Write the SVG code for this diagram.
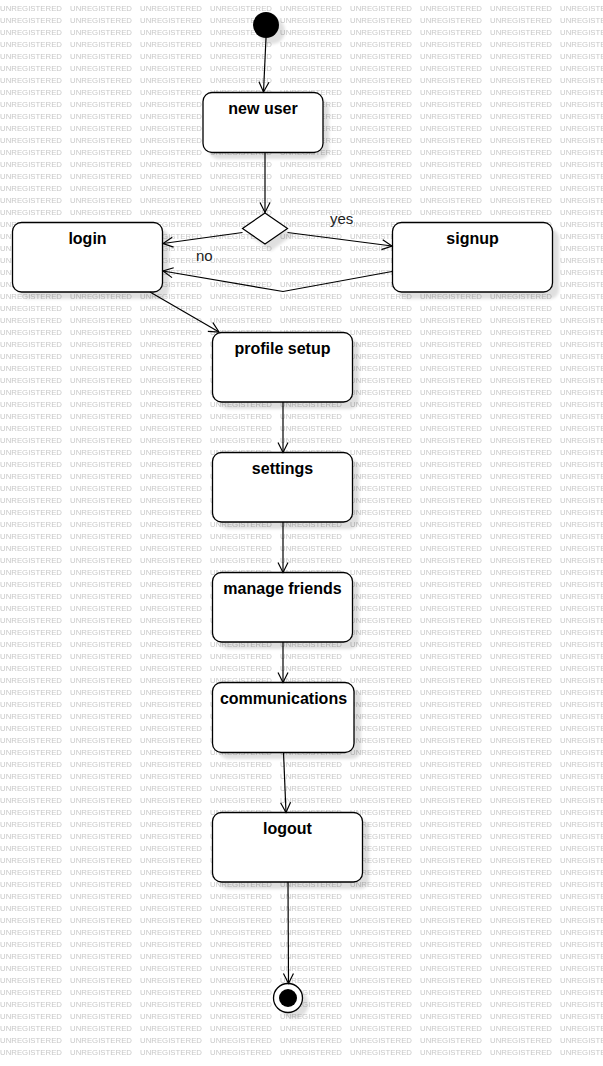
<svg xmlns="http://www.w3.org/2000/svg" width="603" height="1066" viewBox="0 0 603 1066">
<style>
.wm{font-family:"Liberation Sans",Arial,sans-serif;font-size:7.7px;fill:#c8c8c8}
.box{fill:#fff;stroke:#000;stroke-width:1.3}
.sh{fill:#000;opacity:0.12}
.lbl{font-family:"Liberation Sans",Arial,sans-serif;font-size:16px;font-weight:bold;fill:#000;text-anchor:middle}
.el{font-family:"Liberation Sans",Arial,sans-serif;font-size:15px;fill:#222}
.ln{fill:none;stroke:#000;stroke-width:1.2}
</style>
<defs>
<pattern id="wmp" x="0" y="0" width="70" height="12" patternUnits="userSpaceOnUse">
<text class="wm" x="0" y="10.5" textLength="62" lengthAdjust="spacingAndGlyphs">UNREGISTERED</text>
</pattern>
<filter id="blur" x="-20%" y="-20%" width="140%" height="140%"><feGaussianBlur stdDeviation="1.5"/></filter>
<marker id="arr" markerUnits="userSpaceOnUse" markerWidth="14" markerHeight="14" refX="11" refY="6" orient="auto">
<path d="M1,1 L11,6 L1,11" fill="none" stroke="#000" stroke-width="1.2"/>
</marker>
</defs>
<rect width="603" height="1066" fill="#fff"/>
<rect width="603" height="1059" fill="url(#wmp)"/>

<g id="start">
<circle class="sh" cx="272" cy="31" r="13" filter="url(#blur)"/>
<circle cx="266" cy="25" r="13" fill="#000"/>
</g>

<g id="new-user">
<rect class="sh" x="209" y="99" width="120" height="60" rx="9" filter="url(#blur)"/>
<rect class="box" x="203" y="92.5" width="120" height="60" rx="9"/>
<text class="lbl" x="263" y="113.5">new user</text>
</g>

<g id="decision">
<polygon class="sh" points="271,219 293,235 271,251 249,235" filter="url(#blur)"/>
<polygon points="265,213 287.5,228.5 265,244 242.5,228.5" fill="#fff" stroke="#000" stroke-width="1.2"/>
</g>

<g id="login">
<rect class="sh" x="19" y="229" width="150" height="70" rx="9" filter="url(#blur)"/>
<rect class="box" x="12.5" y="222.5" width="150" height="69.5" rx="9"/>
<text class="lbl" x="87.5" y="243.5">login</text>
</g>

<g id="signup">
<rect class="sh" x="399" y="229" width="160" height="70" rx="9" filter="url(#blur)"/>
<rect class="box" x="392.5" y="222.5" width="160" height="69.5" rx="9"/>
<text class="lbl" x="472.5" y="243.5">signup</text>
</g>

<g id="profile-setup">
<rect class="sh" x="219" y="339" width="140" height="70" rx="9" filter="url(#blur)"/>
<rect class="box" x="212.5" y="332.5" width="140" height="69.5" rx="9"/>
<text class="lbl" x="282.5" y="354">profile setup</text>
</g>

<g id="settings">
<rect class="sh" x="219" y="459" width="140" height="70" rx="9" filter="url(#blur)"/>
<rect class="box" x="212.5" y="452.5" width="140" height="69.5" rx="9"/>
<text class="lbl" x="282.5" y="474">settings</text>
</g>

<g id="manage-friends">
<rect class="sh" x="219" y="579" width="140" height="70" rx="9" filter="url(#blur)"/>
<rect class="box" x="212.5" y="572.5" width="140" height="69.5" rx="9"/>
<text class="lbl" x="282.5" y="594">manage friends</text>
</g>

<g id="communications">
<rect class="sh" x="219" y="689" width="142" height="70" rx="9" filter="url(#blur)"/>
<rect class="box" x="212.5" y="682.5" width="141.5" height="70" rx="9"/>
<text class="lbl" x="283.5" y="704">communications</text>
</g>

<g id="logout">
<rect class="sh" x="219" y="819" width="150" height="70" rx="9" filter="url(#blur)"/>
<rect class="box" x="212.5" y="812.5" width="150" height="69.5" rx="9"/>
<text class="lbl" x="287.5" y="834">logout</text>
</g>

<g id="end">
<circle class="sh" cx="294" cy="1004" r="14.5" filter="url(#blur)"/>
<circle cx="288" cy="998" r="14.5" fill="#fff" stroke="#000" stroke-width="1.3"/>
<circle cx="288" cy="998" r="9" fill="#000"/>
</g>

<g id="connectors">
<line class="ln" x1="266" y1="38" x2="263.5" y2="92" marker-end="url(#arr)"/>
<line class="ln" x1="265" y1="152.5" x2="265" y2="212.5" marker-end="url(#arr)"/>
<line class="ln" x1="242.5" y1="232.5" x2="163" y2="243.5" marker-end="url(#arr)"/>
<line class="ln" x1="287.5" y1="232.5" x2="392" y2="246" marker-end="url(#arr)"/>
<polyline class="ln" points="392,271.5 283,291.5 163,271" marker-end="url(#arr)"/>
<line class="ln" x1="150" y1="292" x2="219" y2="332" marker-end="url(#arr)"/>
<line class="ln" x1="283" y1="402" x2="283" y2="452.5" marker-end="url(#arr)"/>
<line class="ln" x1="283" y1="522" x2="283" y2="572.5" marker-end="url(#arr)"/>
<line class="ln" x1="283" y1="642" x2="283" y2="682.5" marker-end="url(#arr)"/>
<line class="ln" x1="283.5" y1="752.5" x2="286" y2="812.5" marker-end="url(#arr)"/>
<line class="ln" x1="288" y1="882" x2="288.5" y2="983.5" marker-end="url(#arr)"/>
<text class="el" x="330" y="224">yes</text>
<text class="el" x="196" y="261">no</text>
</g>
</svg>
